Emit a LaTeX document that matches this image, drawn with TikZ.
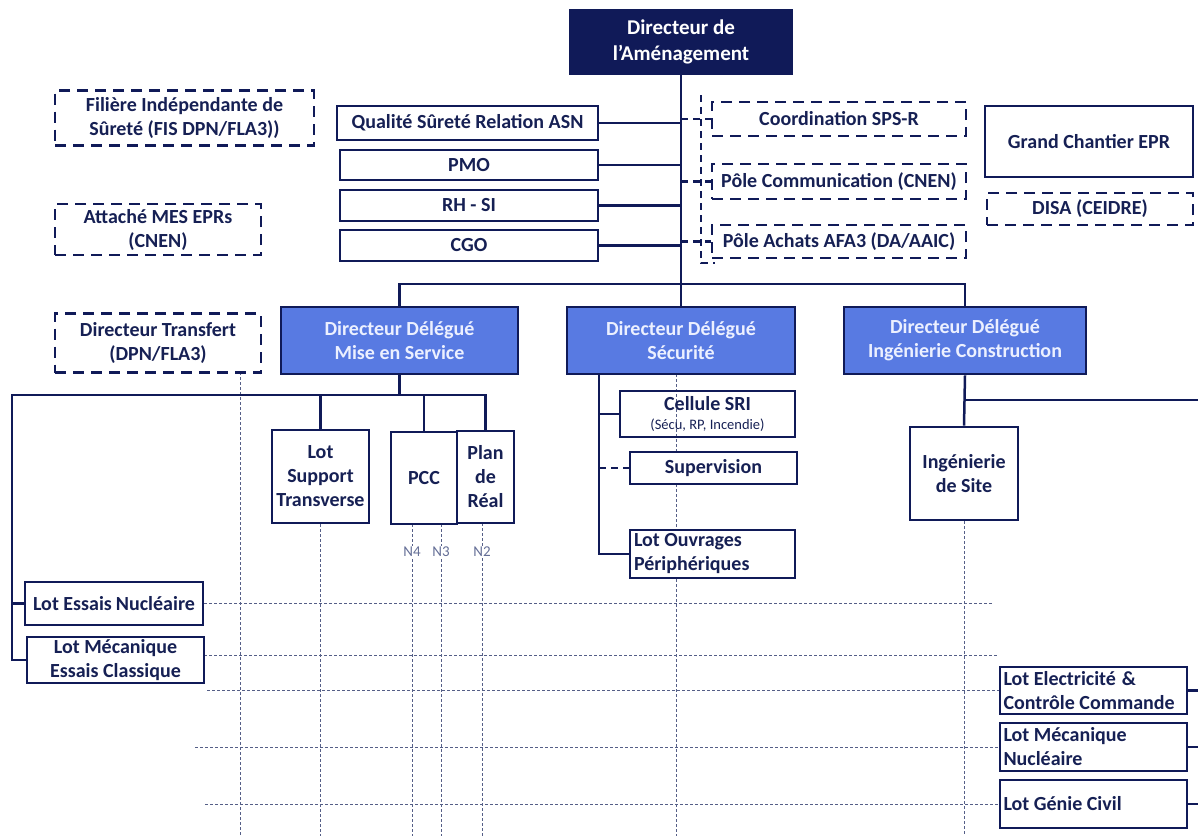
\documentclass[tikz,border=0pt]{standalone}
\usepackage{fontspec}
\setmainfont{Carlito}
\definecolor{navy}{RGB}{16,26,88}
\definecolor{ddblue}{RGB}{88,122,226}
\definecolor{ddtext}{RGB}{236,240,255}
\definecolor{txt}{RGB}{22,32,84}
\definecolor{gridc}{RGB}{85,95,135}
\definecolor{ntext}{RGB}{100,110,150}
\pgfdeclarelayer{background}
\pgfsetlayers{background,main}
\tikzset{
  base/.style={draw=navy, line width=2.6pt, text=txt, font=\bfseries\fontsize{20}{24}\selectfont, align=center, inner sep=0pt, fill=white},
  solidbox/.style={base},
  dashbox/.style={base, dash pattern=on 11pt off 7pt},
  ddbox/.style={base, fill=ddblue, text=ddtext, font=\bfseries\fontsize{20}{24}\selectfont},
  topbox/.style={base, fill=navy, text=white, font=\bfseries\fontsize{21}{26}\selectfont},
  leftbox/.style={base, align=flush left, text width=#1pt, inner xsep=4pt},
  sz/.style 2 args={minimum width=#1pt, minimum height=#2pt},
  conn/.style={draw=navy, line width=2.5pt},
  dconn/.style={draw=navy, line width=2.5pt, dash pattern=on 7pt off 5pt},
  gridline/.style={draw=gridc, line width=0.9pt, dash pattern=on 3pt off 2pt},
  nlab/.style={text=ntext, font=\fontsize{15}{17}\selectfont, fill=white, inner sep=1pt},
}
\begin{document}
\begin{tikzpicture}[x=1pt,y=-1pt]
\useasboundingbox (0,0) rectangle (1198,836);

% top
\node[topbox, sz={222}{64}] (top) at (681,42) {Directeur de\\l’Aménagement};

% staff left
\node[solidbox, sz={261}{34}] (qsr) at (467.5,123) {Qualité Sûreté Relation ASN};
\node[solidbox, sz={258}{30}] (pmo) at (469,165) {PMO};
\node[solidbox, sz={258}{31}] (rhsi) at (469,205.5) {RH - SI};
\node[solidbox, sz={258}{31}] (cgo) at (469,245.5) {CGO};

% dashed left
\node[dashbox, sz={259}{55}] (fis) at (184.5,118) {Filière Indépendante de\\Sûreté (FIS DPN/FLA3))};
\node[dashbox, sz={206}{51}] (att) at (158,229.5) {Attaché MES EPRs\\(CNEN)};
\node[dashbox, sz={206}{59}] (dt) at (158,343) {Directeur Transfert\\(DPN/FLA3)};

% dashed right
\node[dashbox, sz={254}{34}] (sps) at (839,119) {Coordination SPS-R};
\node[dashbox, sz={254}{35}] (com) at (839,181.5) {Pôle Communication (CNEN)};
\node[dashbox, sz={254}{33}] (ach) at (839,241.5) {Pôle Achats AFA3 (DA/AAIC)};
\node[solidbox, sz={208}{71}] (gce) at (1089,141.5) {Grand Chantier EPR};
\node[dashbox, sz={206}{32}] (disa) at (1090,209) {DISA (CEIDRE)};

% directeurs délégués
\node[ddbox, sz={237}{67}] (ddm) at (399.5,340.5) {Directeur Délégué\\Mise en Service};
\node[ddbox, sz={228}{67}] (dds) at (681,340.5) {Directeur Délégué\\Sécurité};
\node[ddbox, sz={242}{67}] (ddi) at (965,340.5) {Directeur Délégué\\Ingénierie Construction};

% MES subtree
\node[solidbox, sz={97}{93}] (lst) at (320.5,476.5) {Lot\\Support\\Transverse};
\node[solidbox, sz={66}{92}] (pcc) at (424,478) {PCC};
\node[solidbox, sz={57}{92}] (plan) at (485.5,477) {Plan\\de\\Réal};
\node[solidbox, sz={178}{43}] (lesn) at (114,603.5) {Lot Essais\hspace{4pt}Nucléaire};
\node[solidbox, sz={177}{46}] (lmec) at (115.5,660) {Lot Mécanique\\Essais Classique};

% Sécurité subtree
\node[solidbox, fill=none, sz={175}{46}] (cel) at (707.5,414) {Cellule SRI\\[-5pt]{\mdseries\fontsize{14.5}{16}\selectfont (Sécu, RP, Incendie)}};
\node[solidbox, sz={167}{32}] (sup) at (713.5,468) {Supervision};
\node[leftbox=157, sz={165}{48}] (lop) at (712.5,554) {Lot Ouvrages\\Périphériques};

% IC subtree
\node[solidbox, sz={108}{93}] (ids) at (964,473.5) {Ingénierie\\de Site};
\node[leftbox=180, sz={187}{47}, inner xsep=3.5pt] (lel) at (1093.5,690.5) {Lot Electricité\hspace{6pt}\&\\Contrôle Commande};
\node[leftbox=180, sz={187}{48}, inner xsep=3.5pt] (lmn) at (1093.5,747) {Lot Mécanique\\Nucléaire};
\node[leftbox=180, sz={187}{48}, inner xsep=3.5pt] (lgc) at (1093.5,804) {Lot Génie Civil};

% N labels
\node[nlab] (n4) at (412,552) {N4};
\node[nlab] (n3) at (441,552) {N3};
\node[nlab] (n2) at (482,552) {N2};

% coordinates
\coordinate (barl) at (0,284);
\coordinate (lx) at (12,395);
\coordinate (sx) at (599,374);
\coordinate (rx) at (1198,400);
\coordinate (brt) at (701,95);
\coordinate (brb) at (701,263);
\coordinate (bot) at (0,836);

% main connectors
\draw[conn] (top.south) -- (dds.north);
\draw[conn] (ddm.north) |- (ddi.north |- barl) -- (ddi.north);
\foreach \n in {qsr,pmo,rhsi,cgo} \draw[conn] (\n.east) -- (\n.east -| top.south);

% dashed bracket
\draw[dconn] (brt) -- (brb) -- ++(14,0);
\foreach \n in {sps,com,ach} \draw[dconn] (\n.west -| top.south) -- (\n.west);

% MES subtree connectors
\draw[conn] (ddm.south) -- (ddm.south |- lx);
\draw[conn] (lmec.west) -| (lx) -| (plan.north);
\draw[conn] (lst.north) -- (lst.north |- lx);
\draw[conn] (pcc.north) -- (pcc.north |- lx);
\draw[conn] (lesn.west) -- (lesn.west -| lx);

% Sécurité connectors
\draw[conn] (sx) |- (lop.west);
\draw[conn] (cel.west -| sx) -- (cel.west);
\draw[dconn] (sup.west -| sx) -- (sup.west);

% IC connectors
\draw[conn] (ddi.south) -- (ids.north);
\draw[conn] (ddi.south |- rx) -- (rx);
\foreach \n in {lel,lmn,lgc} \draw[conn] (\n.east) -- (\n.east -| rx);

% dotted grid
\begin{pgfonlayer}{background}
  \draw[gridline] (240,372) -- (240,836);
  \draw[gridline] (lst.south) -- (lst.south |- bot);
  \draw[gridline] (412,524) -- (412,836);
  \draw[gridline] (441,524) -- (441,836);
  \draw[gridline] (482,523) -- (482,836);
  \draw[gridline] (676,374) -- (676,836);
  \draw[gridline] (ids.south) -- (ids.south |- bot);
  \draw[gridline] (lesn.east) -- (993,603.5);
  \draw[gridline] (204,655) -- (997,655);
  \draw[gridline] (207,690.5) -- (lel.west);
  \draw[gridline] (195,747) -- (lmn.west);
  \draw[gridline] (205,804) -- (lgc.west);
\end{pgfonlayer}
\end{tikzpicture}
\end{document}
